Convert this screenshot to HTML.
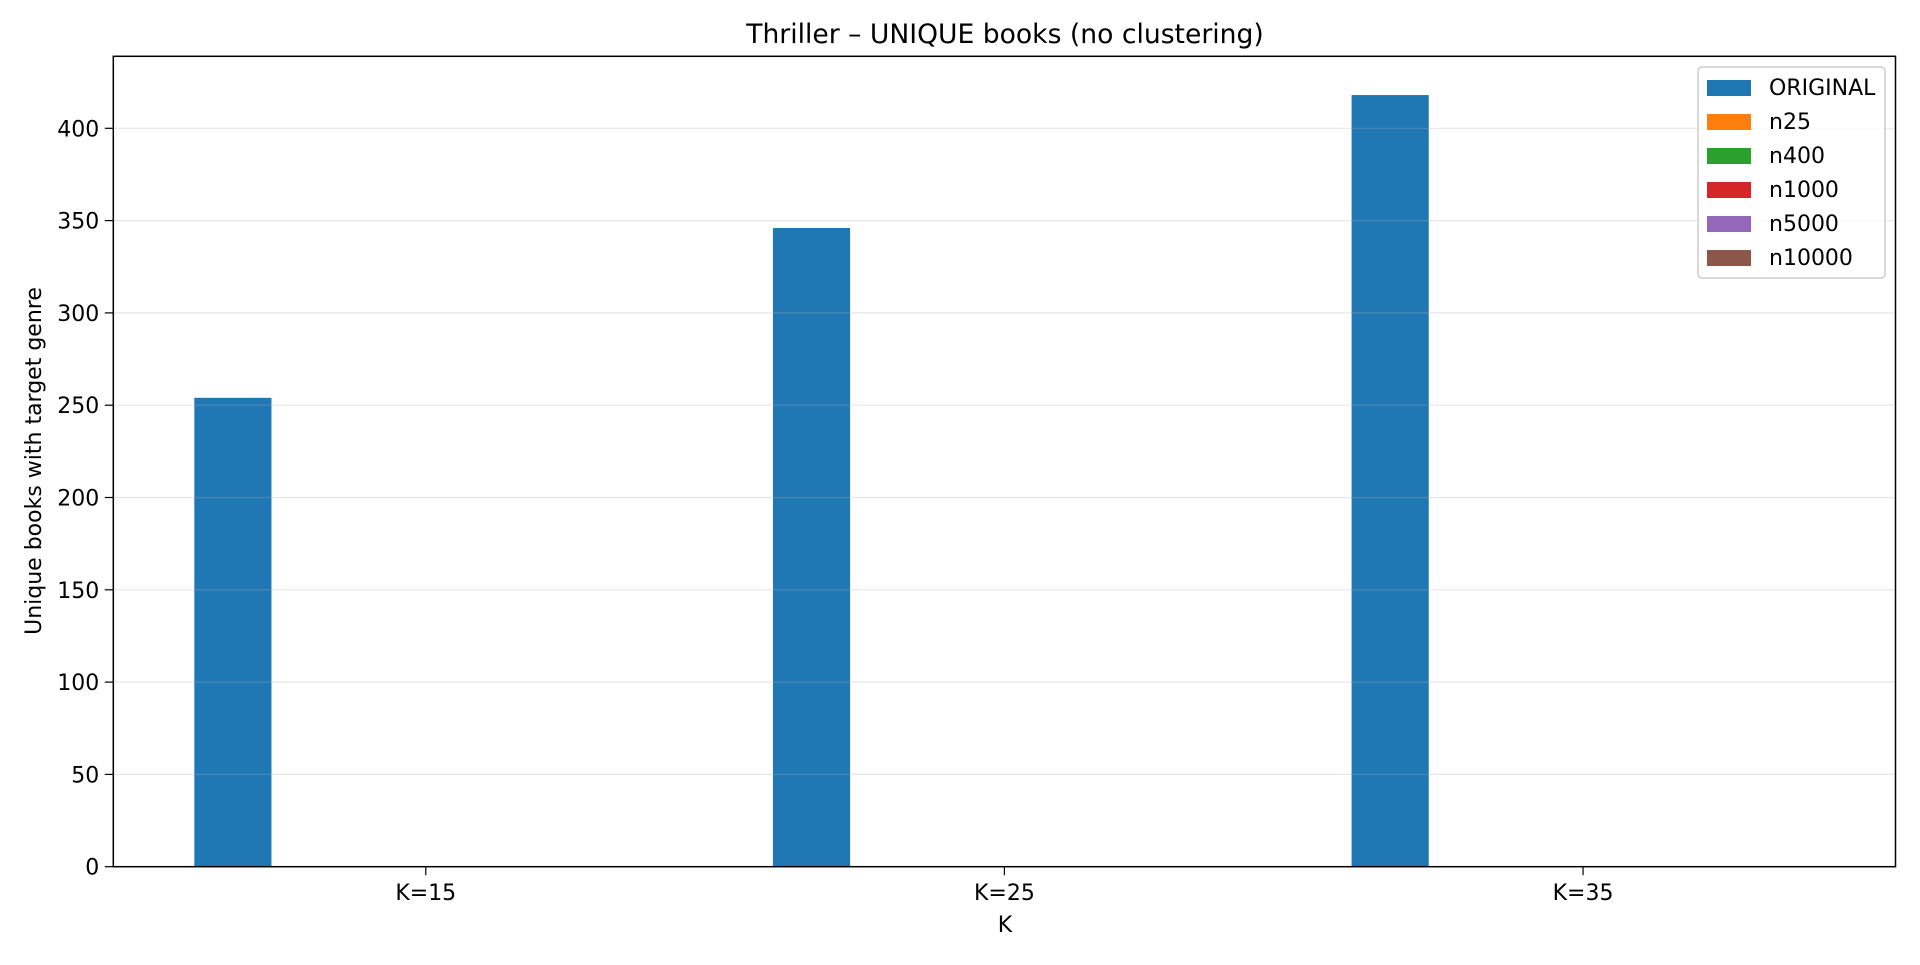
<!DOCTYPE html>
<html><head><meta charset="utf-8"><style>
html,body{margin:0;padding:0;background:#fff;}
svg text{font-family:"DejaVu Sans","Liberation Sans",sans-serif;fill:#000;}
</style></head><body>
<svg id="chart" width="1920" height="960" xmlns="http://www.w3.org/2000/svg">
<rect width="1920" height="960" fill="#fff"/>
<text x="1005" y="43" font-size="26.6" text-anchor="middle">Thriller – UNIQUE books (no clustering)</text>
<g id="grid"></g>
<g id="bars"></g>
<g id="axes"></g>
<text x="1005" y="932" font-size="22" text-anchor="middle">K</text>
<text transform="translate(41,461) rotate(-90)" font-size="22" text-anchor="middle">Unique books with target genre</text>
<g id="legend"></g>
</svg>
<script>
const categories = ["K=15","K=25","K=35"];
const seriesNames = ["ORIGINAL","n25","n400","n1000","n5000","n10000"];
const seriesColors = ["#1f77b4","#ff7f0e","#2ca02c","#d62728","#9467bd","#8c564b"];
const valORIGINAL = [254,346,418];
const valN25 = [0,0,0];
const valN400 = [0,0,0];
const valN1000 = [0,0,0];
const valN5000 = [0,0,0];
const valN10000 = [0,0,0];
const yTicks = [0,50,100,150,200,250,300,350,400];

const series=[valORIGINAL,valN25,valN400,valN1000,valN5000,valN10000];
const L=113.3,R=1895.5,T=56.3,B=866.7;
const xmin=-0.54,xmax=2.54,ymin=0,ymax=439;
const xs=v=>L+(v-xmin)/(xmax-xmin)*(R-L);
const ys=v=>B-(v-ymin)/(ymax-ymin)*(B-T);
const NS="http://www.w3.org/2000/svg";
function mk(tag,attrs,parent){const e=document.createElementNS(NS,tag);for(const k in attrs)e.setAttribute(k,attrs[k]);parent.appendChild(e);return e;}
const gBars=document.getElementById('bars'),gGrid=document.getElementById('grid'),gAx=document.getElementById('axes'),gLeg=document.getElementById('legend');
const bw=0.8/series.length;
series.forEach((vals,si)=>{
  vals.forEach((v,ci)=>{
    const x0=ci-0.4+si*bw;
    const r=mk('rect',{x:xs(x0),y:Math.min(ys(v),ys(0)),width:xs(x0+bw)-xs(x0),height:Math.abs(ys(0)-ys(v)),fill:seriesColors[si]},gBars);
    
    
  });
});
yTicks.forEach(t=>{
  const y=ys(t);
  if(t>0){const g=mk('line',{x1:L,x2:R,y1:y,y2:y,stroke:'#b0b0b0','stroke-opacity':0.3,'stroke-width':1.2},gBars);
  
  }
  mk('line',{x1:L-8.5,x2:L,y1:y,y2:y,stroke:'#000','stroke-width':1.2},gAx);
  const tx=mk('text',{x:L-14,y:y+8,'font-size':22,'text-anchor':'end'},gAx);
  tx.textContent=t;
  
  
});
categories.forEach((c,ci)=>{
  const x=xs(ci);
  mk('line',{x1:x,x2:x,y1:B,y2:B+8.5,stroke:'#000','stroke-width':1.2},gAx);
  const tx=mk('text',{x:x,y:900,'font-size':22,'text-anchor':'middle'},gAx);
  tx.textContent=c;
  
  
});
const frame=mk('rect',{x:L,y:T,width:R-L,height:B-T,fill:'none',stroke:'#000','stroke-width':1.5},gAx);


mk('rect',{x:1698,y:67,width:187,height:211,rx:4,fill:'#fff','fill-opacity':0.8,stroke:'#ccc','stroke-width':1.5},gLeg);
seriesNames.forEach((n,i)=>{
  const y=80+i*34;
  const p=mk('rect',{x:1707,y:y,width:44,height:16,fill:seriesColors[i]},gLeg);
  
  
  const t=mk('text',{x:1769,y:y+15,'font-size':22},gLeg);
  t.textContent=n;
  
  
});
</script>
</body></html>
